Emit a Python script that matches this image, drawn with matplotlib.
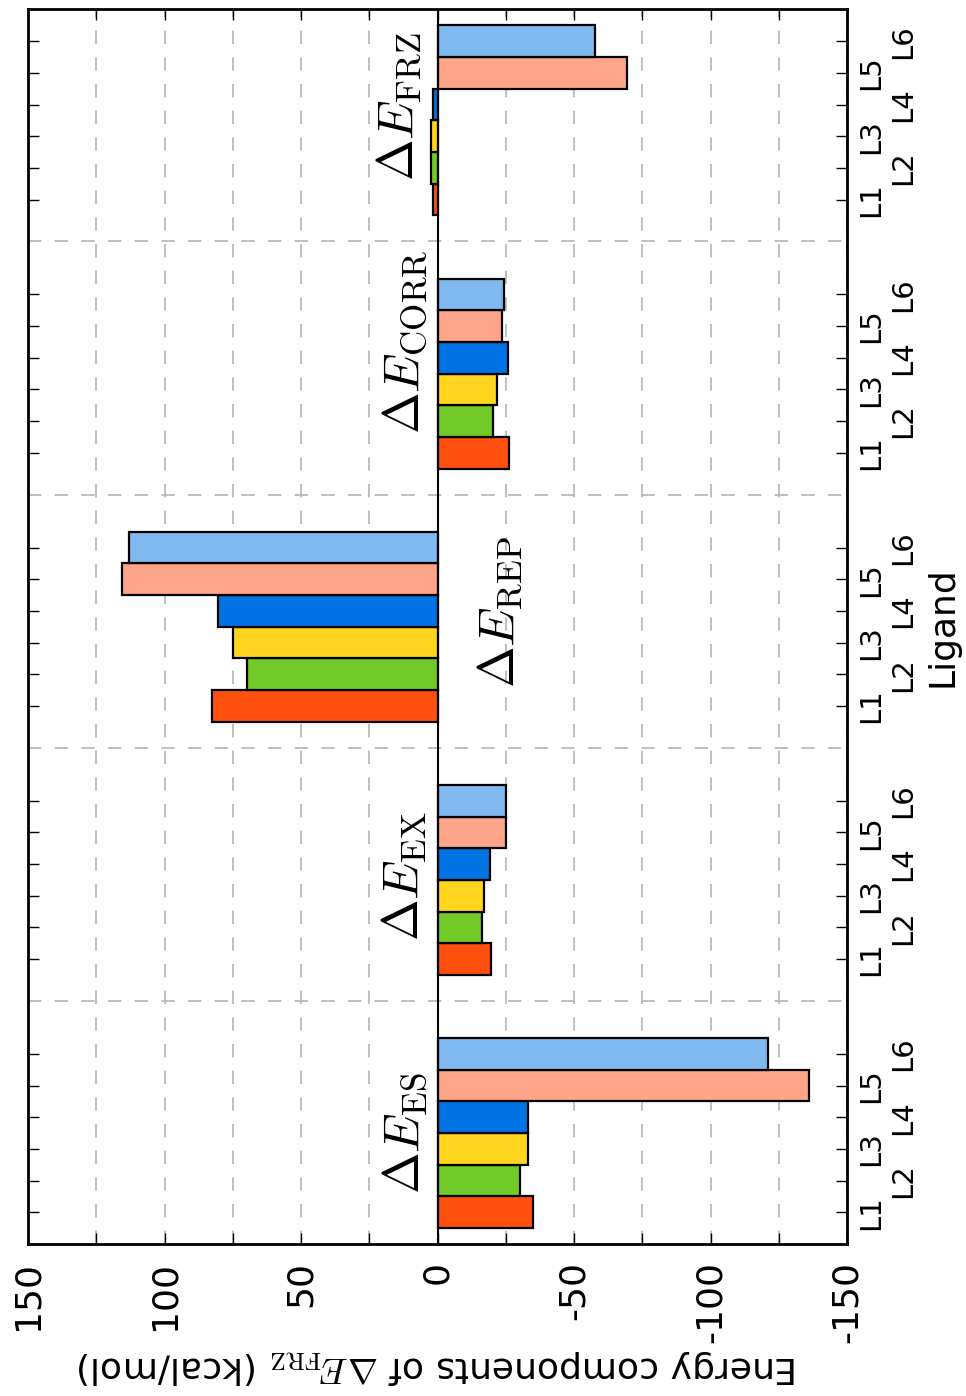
import matplotlib
matplotlib.use("Agg")
import matplotlib.pyplot as plt
import numpy as np

# ---------------------------------------------------------------- data --
components = ["ES", "EX", "REP", "CORR", "FRZ"]
ligands = ["L1", "L2", "L3", "L4", "L5", "L6"]
colors = ["#ff5010", "#72ca28", "#ffd520", "#0073e4", "#ffa589", "#80b9f0"]

# energies in kcal/mol, one list per component, ordered L1..L6
e_es = [-35.1, -30.2, -33.0, -33.0, -136.1, -121.1]
e_ex = [-19.5, -16.4, -17.1, -19.1, -25.2, -25.2]
e_rep = [82.7, 69.7, 74.8, 80.3, 115.7, 112.9]
e_corr = [-26.1, -20.2, -21.7, -25.9, -23.7, -24.4]
e_frz = [1.7, 2.5, 2.3, 1.6, -69.4, -57.7]
energies = [e_es, e_ex, e_rep, e_corr, e_frz]

# where the component labels sit (value axis position)
label_value = [12, 12, -23, 12, 14]

# ---------------------------------------------------------------- style --
plt.rcParams["mathtext.fontset"] = "cm"
plt.rcParams["font.family"] = "DejaVu Sans"
plt.rcParams["axes.unicode_minus"] = False

BAR_W = 0.125
OFFSET = 0.103  # gap between group boundary and first bar

fig = plt.figure(figsize=(9.66, 13.96), dpi=100)
ax = fig.add_axes([28 / 966, 1 - 1244 / 1396, (847 - 28) / 966, (1244 - 8.5) / 1396])

centers = []
for g, vals in enumerate(energies):
    pos = g + OFFSET + BAR_W / 2 + BAR_W * np.arange(len(ligands))
    centers.extend(pos)
    ax.barh(pos, vals, height=BAR_W, color=colors, edgecolor="black",
            linewidth=1.6, zorder=3)
    # text starts a bit below the group centre (reads bottom-to-top)
    ax.text(label_value[g], pos.mean() - 0.24, rf"$\Delta E_{{\rm {components[g]}}}$",
            rotation=90, ha="center", va="bottom", fontsize=36, zorder=4)

ax.axvline(0, color="black", linewidth=1.5, zorder=4)

# value axis (horizontal, reversed)
ax.set_xlim(150, -150)
xt = np.arange(-150, 151, 25)
ax.set_xticks(xt)
ax.set_xticklabels([f"{v:d}" if v % 50 == 0 else "" for v in xt],
                   rotation=90, fontsize=26)
ax.tick_params(axis="x", which="major", direction="in", length=8, width=1,
               top=True, bottom=True, pad=12)
ax.set_xlabel(r"Energy components of $\Delta E_{\rm FRZ}$ (kcal/mol)",
              rotation=180, fontsize=26, labelpad=4)

# category axis (vertical)
ax.set_ylim(0.04, 4.92)
ax.set_yticks([1, 2, 3, 4])
ax.set_yticklabels([])
ax.set_yticks(centers, minor=True)
ax.set_yticklabels([("\n" if i % 2 else "") + ligands[i % 6]
                    for i in range(len(centers))], minor=True,
                   rotation=90, fontsize=21, va="center", ha="left")
ax.yaxis.set_ticks_position("both")
ax.yaxis.set_label_position("right")
ax.tick_params(axis="y", which="major", length=0, labelright=True, labelleft=False)
ax.tick_params(axis="y", which="minor", direction="in", length=8, width=1,
               left=True, right=True, labelright=True, labelleft=False, pad=7)
ax.set_ylabel("Ligand", rotation=90, fontsize=26, labelpad=6)

ax.grid(True, which="major", color="#b4b4b4", linestyle=(0, (8, 8)),
        linewidth=1.2, zorder=0)
for s in ax.spines.values():
    s.set_linewidth(2)

fig.savefig("out.png", dpi=100)
